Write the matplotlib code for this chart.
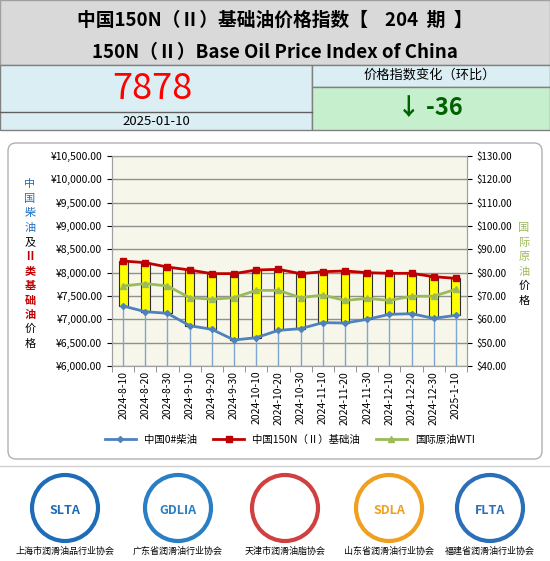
import numpy as np
import matplotlib.pyplot as plt
from matplotlib.patches import Rectangle, FancyBboxPatch, Circle

plt.rcParams['font.family'] = ['Noto Sans CJK SC', 'DejaVu Sans']

dates = ['2024-8-10', '2024-8-20', '2024-8-30', '2024-9-10', '2024-9-20', '2024-9-30',
         '2024-10-10', '2024-10-20', '2024-10-30', '2024-11-10', '2024-11-20', '2024-11-30',
         '2024-12-10', '2024-12-20', '2024-12-30', '2025-1-10']
base_oil = [8250, 8214, 8121, 8057, 7979, 7979, 8057, 8071, 7979, 8021, 8036, 8000,
            7986, 7986, 7914, 7878]
diesel = [7286, 7164, 7129, 6864, 6786, 6557, 6607, 6764, 6800, 6929, 6921, 7000,
          7107, 7121, 7021, 7086]
wti = [74.3, 75.3, 74.3, 69.3, 68.6, 69.3, 72.4, 72.4, 69.3, 70.4, 68.1, 69.0,
       68.1, 69.9, 69.9, 72.9]
logo_names = ['上海市润滑油品行业协会', '广东省润滑油行业协会', '天津市润滑油脂协会',
              '山东省润滑油行业协会', '福建省润滑油行业协会']
logo_tags = ['SLTA', 'GDLIA', '', 'SDLA', 'FLTA']

W, H = 550, 561
fig = plt.figure(figsize=(W / 100, H / 100), dpi=100)
bg = fig.add_axes([0, 0, 1, 1])
bg.set_xlim(0, W)
bg.set_ylim(H, 0)
bg.axis('off')

# header
bg.add_patch(Rectangle((0, 0), W, 65, fc='#d9d9d9', ec='#a0a0a0'))
bg.add_patch(Rectangle((0, 65), 312, 65, fc='#daeef3', ec='#808080'))
bg.add_patch(Rectangle((312, 65), 238, 22, fc='#daeef3', ec='#808080'))
bg.add_patch(Rectangle((312, 87), 238, 43, fc='#c6efce', ec='#808080'))
bg.plot([0, 312], [112, 112], color='#606060', lw=1)
bg.text(275, 20, '中国150N（Ⅱ）基础油价格指数【    204  期  】', ha='center', va='center',
        fontsize=13.5, fontweight='bold')
bg.text(275, 53, '150N（Ⅱ）Base Oil Price Index of China', ha='center', va='center',
        fontsize=13.5, fontweight='bold')
bg.text(152, 89, '7878', ha='center', va='center', fontsize=26, color='red')
bg.text(156, 121, '2025-01-10', ha='center', va='center', fontsize=9.5)
bg.text(430, 75, '价格指数变化（环比）', ha='center', va='center', fontsize=9.5)
bg.text(430, 108, '↓ -36', ha='center', va='center', fontsize=17, color='#006100',
        fontweight='bold')

# chart frame
bg.add_patch(FancyBboxPatch((8, 143), 534, 316, boxstyle='round,pad=0,rounding_size=8',
                            fc='white', ec='#b0b0b0', lw=1))

ax = fig.add_axes([112 / W, 1 - 366 / H, 355 / W, 210 / H])
ax.set_facecolor('#f7f6eb')
x = np.arange(len(dates))
ax.set_xlim(-0.5, len(dates) - 0.5)
ax.set_ylim(6000, 10500)
ax.set_yticks(np.arange(6000, 10501, 500))
ax.set_yticklabels(['¥%s' % format(v, ',.2f') for v in range(6000, 10501, 500)], fontsize=7.5)
ax.yaxis.grid(True, color='#909090', lw=1)
ax.set_axisbelow(True)
ax.set_xticks(x)
ax.set_xticklabels(dates, rotation=90, fontsize=7.5)
ax.set_xticks(np.arange(-0.5, len(dates)), minor=True)
ax.tick_params(axis='x', which='major', length=0)
ax.tick_params(axis='x', which='minor', length=4, color='#808080')
for s in ax.spines.values():
    s.set_color('#a0a0a0')

ax.vlines(x, 6000, diesel, color='#7ea6d3', lw=1)
ax.bar(x, np.array(base_oil) - np.array(diesel), bottom=diesel, width=0.4,
       color='yellow', edgecolor='#303030', lw=0.8)
ax.plot(x, diesel, color='#4f81bd', lw=2, marker='D', ms=3, label='中国0#柴油')
ax.plot(x, base_oil, color='#c00000', lw=2, marker='s', ms=5, label='中国150N（Ⅱ）基础油')

ax2 = ax.twinx()
ax2.set_ylim(40, 130)
ax2.set_yticks(np.arange(40, 131, 10))
ax2.set_yticklabels(['$%.2f' % v for v in range(40, 131, 10)], fontsize=7)
ax2.plot(x, wti, color='#9bbb59', lw=2, marker='^', ms=5, label='国际原油WTI')
for s in ax2.spines.values():
    s.set_color('#a0a0a0')

h1, l1 = ax.get_legend_handles_labels()
h2, l2 = ax2.get_legend_handles_labels()
fig.legend(h1 + h2, l1 + l2, loc='center', bbox_to_anchor=(290 / W, 1 - 440 / H), ncol=3,
           frameon=False, fontsize=7.5, handlelength=3, columnspacing=1.5)

# vertical axis titles
left_chars = [('中', '#1f6fbf'), ('国', '#1f6fbf'), ('柴', '#1f6fbf'), ('油', '#1f6fbf'),
              ('及', 'black'), ('Ⅱ', '#c00000'), ('类', '#c00000'), ('基', '#c00000'),
              ('础', '#c00000'), ('油', '#c00000'), ('价', 'black'), ('格', 'black')]
for i, (ch, c) in enumerate(left_chars):
    bg.text(30, 184 + i * 14.5, ch, ha='center', va='center', fontsize=8, color=c,
            fontweight='bold' if c == '#c00000' else 'normal')
right_chars = [('国', '#9bbb59'), ('际', '#9bbb59'), ('原', '#9bbb59'), ('油', '#9bbb59'),
               ('价', 'black'), ('格', 'black')]
for i, (ch, c) in enumerate(right_chars):
    bg.text(524, 228 + i * 14.5, ch, ha='center', va='center', fontsize=8, color=c)

# logos
bg.plot([0, W], [466, 466], color='#d0d0d0', lw=1)
logo_x = [65, 178, 285, 389, 490]
logo_c = ['#1e6bb8', '#2a7fc4', '#d04040', '#f0a020', '#2a6fb8']
for lx, name, tag, c in zip(logo_x, logo_names, logo_tags, logo_c):
    bg.add_patch(Circle((lx, 508), 33, fc='white', ec=c, lw=3))
    if tag:
        bg.text(lx, 510, tag, ha='center', va='center', fontsize=9, color=c, fontweight='bold')
    bg.text(lx, 551, name, ha='center', va='center', fontsize=6.5)

fig.savefig('out.png', dpi=100)
